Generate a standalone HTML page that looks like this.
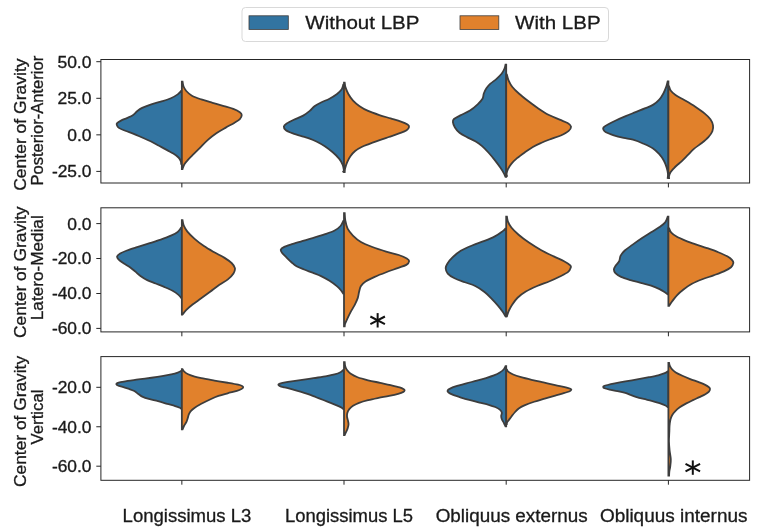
<!DOCTYPE html>
<html><head><meta charset="utf-8"><title>Violin chart</title>
<style>
html,body{margin:0;padding:0;background:#fff;}
svg{display:block;will-change:transform;}
text{font-family:"Liberation Sans",sans-serif;fill:#1a1a1a;stroke:#1a1a1a;stroke-width:0.3px;}
</style></head><body>
<svg width="762" height="532" viewBox="0 0 762 532">
<rect width="762" height="532" fill="#fff"/>
<rect x="242" y="7.5" width="366.5" height="34" rx="3.5" ry="3.5" fill="#fff" stroke="#d9d9d9" stroke-width="1"/>
<rect x="249" y="15.8" width="39.3" height="13.6" fill="#3274a1" stroke="#3d3d3d" stroke-width="0.8"/>
<text x="305.3" y="29.4" font-size="19" textLength="114.2" lengthAdjust="spacingAndGlyphs">Without LBP</text>
<rect x="460" y="15.8" width="38.8" height="13.6" fill="#e1812c" stroke="#3d3d3d" stroke-width="0.8"/>
<text x="515" y="29.4" font-size="19" textLength="85.6" lengthAdjust="spacingAndGlyphs">With LBP</text>
<path d="M181.85,91.00L181.15,91.00C180.57,91.56 179.39,93.17 177.68,94.38C175.98,95.60 173.73,97.06 170.91,98.27C168.09,99.49 164.15,100.61 160.76,101.66C157.38,102.70 153.71,103.49 150.61,104.53C147.51,105.58 144.40,106.79 142.15,107.92C139.89,109.05 138.62,110.09 137.07,111.30C135.52,112.52 134.53,114.07 132.84,115.19C131.15,116.32 128.89,117.17 126.92,118.07C124.95,118.97 122.63,119.76 121.00,120.61C119.36,121.46 117.81,122.44 117.11,123.15C116.40,123.85 116.49,124.05 116.77,124.84C117.05,125.63 117.39,126.90 118.80,127.88C120.21,128.87 122.75,129.77 125.23,130.76C127.71,131.75 130.87,132.68 133.69,133.81C136.51,134.94 139.33,136.29 142.15,137.53C144.97,138.77 147.79,139.87 150.61,141.25C153.43,142.63 156.25,144.30 159.07,145.82C161.89,147.34 165.16,149.09 167.53,150.39C169.90,151.69 171.45,152.42 173.28,153.60C175.12,154.79 177.29,156.23 178.53,157.50C179.77,158.76 180.29,160.17 180.73,161.22C181.16,162.26 181.08,163.33 181.15,163.76L181.85,163.76Z" fill="#3274a1" stroke="#3d3d3d" stroke-width="1.8" stroke-linejoin="miter"/>
<path d="M181.85,81.58L182.55,81.58C182.70,82.36 182.84,84.71 183.46,86.28C184.08,87.84 184.87,89.41 186.28,90.98C187.69,92.54 189.41,94.27 191.92,95.68C194.42,97.09 197.87,98.25 201.32,99.44C204.76,100.63 208.83,101.72 212.59,102.82C216.35,103.92 220.43,105.01 223.87,106.02C227.32,107.02 230.61,107.80 233.27,108.83C235.93,109.87 238.44,111.18 239.85,112.22C241.26,113.25 241.73,113.88 241.73,115.04C241.73,116.20 241.10,117.86 239.85,119.17C238.60,120.49 236.56,121.52 234.21,122.93C231.86,124.34 228.73,125.91 225.75,127.63C222.78,129.35 219.33,131.23 216.35,133.27C213.38,135.31 210.56,137.50 207.89,139.85C205.23,142.20 202.73,145.02 200.38,147.37C198.03,149.72 195.83,151.91 193.80,153.95C191.76,155.98 189.72,157.86 188.16,159.59C186.59,161.31 185.33,162.72 184.40,164.29C183.46,165.85 182.86,168.20 182.55,168.98L181.85,168.98Z" fill="#e1812c" stroke="#3d3d3d" stroke-width="1.8" stroke-linejoin="miter"/>
<path d="M344.00,84.58L343.30,84.58C343.04,85.36 342.77,87.71 341.73,89.28C340.68,90.84 339.07,92.41 337.03,93.98C334.99,95.54 332.17,97.27 329.51,98.68C326.85,100.09 323.56,101.18 321.05,102.44C318.55,103.69 316.35,104.79 314.47,106.20C312.59,107.61 311.65,109.33 309.77,110.89C307.89,112.46 305.86,114.12 303.20,115.59C300.53,117.07 296.55,118.41 293.80,119.73C291.04,121.05 288.31,122.36 286.65,123.49C284.99,124.62 283.96,125.37 283.83,126.50C283.71,127.62 284.40,129.10 285.90,130.26C287.41,131.41 289.97,132.39 292.86,133.45C295.74,134.52 300.50,135.83 303.20,136.65C305.89,137.46 306.74,137.49 309.02,138.34C311.31,139.18 314.29,140.41 316.92,141.72C319.55,143.04 322.18,144.48 324.81,146.23C327.44,147.99 330.29,150.15 332.71,152.25C335.12,154.35 337.64,156.76 339.29,158.83C340.93,160.89 341.83,162.77 342.59,164.65C343.36,166.53 343.77,168.98 343.89,170.11C344.01,171.23 343.40,171.20 343.30,171.42L344.00,171.42Z" fill="#3274a1" stroke="#3d3d3d" stroke-width="1.8" stroke-linejoin="miter"/>
<path d="M344.00,82.70L344.70,82.70C344.84,83.48 344.91,85.52 345.52,87.40C346.13,89.28 347.09,91.78 348.34,93.98C349.59,96.17 351.16,98.52 353.04,100.56C354.92,102.59 357.11,104.47 359.62,106.20C362.12,107.92 364.79,109.42 368.08,110.89C371.36,112.37 375.59,113.78 379.35,115.03C383.11,116.28 387.03,117.32 390.63,118.41C394.23,119.51 398.15,120.58 400.97,121.61C403.79,122.64 406.20,123.74 407.55,124.62C408.90,125.49 409.21,125.93 409.05,126.87C408.90,127.81 408.27,129.16 406.61,130.26C404.95,131.35 402.07,132.32 399.09,133.45C396.11,134.58 392.10,135.86 388.75,137.02C385.40,138.18 382.40,139.19 378.98,140.41C375.55,141.62 371.10,143.20 368.21,144.30C365.31,145.39 363.79,145.88 361.61,146.98C359.43,148.09 356.97,149.40 355.11,150.93C353.24,152.47 351.72,154.35 350.41,156.20C349.09,158.04 348.09,160.02 347.21,162.02C346.33,164.03 345.56,166.57 345.14,168.23C344.72,169.89 344.77,171.36 344.70,171.98L344.00,171.98Z" fill="#e1812c" stroke="#3d3d3d" stroke-width="1.8" stroke-linejoin="miter"/>
<path d="M506.20,64.73L505.50,64.73C505.33,65.36 505.15,66.98 504.50,68.49C503.85,70.00 502.97,72.04 501.60,73.81C500.23,75.57 498.17,77.45 496.31,79.10C494.44,80.75 492.06,82.16 490.41,83.69C488.75,85.23 487.50,86.66 486.40,88.29C485.30,89.92 484.46,91.74 483.81,93.49C483.16,95.24 483.48,97.04 482.50,98.81C481.52,100.57 479.99,102.13 477.91,104.10C475.82,106.07 472.94,108.72 470.00,110.61C467.06,112.49 462.94,114.01 460.27,115.41C457.60,116.81 455.19,117.88 453.96,119.01C452.74,120.14 452.75,120.79 452.91,122.21C453.06,123.62 453.81,125.74 454.91,127.50C456.01,129.26 457.42,131.14 459.50,132.79C461.59,134.44 464.78,135.99 467.41,137.41C470.04,138.83 472.89,139.89 475.29,141.31C477.69,142.72 479.62,144.04 481.80,145.90C483.99,147.77 486.20,150.08 488.40,152.50C490.60,154.92 493.02,157.89 495.00,160.41C496.98,162.92 498.86,165.51 500.29,167.59C501.73,169.67 502.74,171.37 503.60,172.91C504.47,174.44 505.18,176.15 505.50,176.80L506.20,176.80Z" fill="#3274a1" stroke="#3d3d3d" stroke-width="1.8" stroke-linejoin="miter"/>
<path d="M506.20,74.64L506.90,74.64C507.18,75.58 507.64,78.21 508.56,80.27C509.47,82.33 510.62,84.77 512.39,87.03C514.15,89.28 516.52,91.46 519.14,93.78C521.77,96.11 524.96,98.55 528.15,100.99C531.34,103.43 534.91,106.13 538.29,108.42C541.67,110.71 544.86,112.85 548.42,114.73C551.99,116.61 556.49,118.30 559.68,119.68C562.88,121.07 565.69,121.94 567.57,123.06C569.44,124.19 570.76,125.13 570.95,126.44C571.13,127.76 570.38,129.44 568.69,130.95C567.00,132.45 564.00,134.02 560.81,135.45C557.62,136.88 552.85,138.24 549.55,139.50C546.25,140.77 543.78,141.77 540.99,143.02C538.21,144.26 535.51,145.45 532.84,146.98C530.17,148.52 527.59,150.37 524.95,152.23C522.32,154.09 519.35,156.18 517.05,158.15C514.74,160.13 512.66,162.21 511.13,164.08C509.59,165.94 508.60,167.74 507.84,169.35C507.07,170.96 506.69,172.67 506.53,173.74C506.38,174.81 506.84,175.43 506.90,175.77L506.20,175.77Z" fill="#e1812c" stroke="#3d3d3d" stroke-width="1.8" stroke-linejoin="miter"/>
<path d="M668.40,81.32L667.70,81.32C667.45,82.25 666.93,84.78 666.18,86.86C665.43,88.93 664.37,91.63 663.22,93.77C662.06,95.92 660.91,97.89 659.26,99.70C657.62,101.52 655.64,103.23 653.34,104.64C651.03,106.06 648.40,106.95 645.43,108.20C642.47,109.45 638.84,110.84 635.55,112.15C632.26,113.47 628.96,114.72 625.67,116.11C622.37,117.49 618.75,119.07 615.79,120.45C612.82,121.84 609.92,123.25 607.88,124.41C605.84,125.56 604.29,126.55 603.53,127.37C602.78,128.19 602.94,128.52 603.34,129.35C603.73,130.17 604.16,131.32 605.91,132.31C607.65,133.30 610.85,134.35 613.81,135.28C616.77,136.20 620.50,137.11 623.69,137.85C626.89,138.58 629.68,138.73 632.98,139.70C636.28,140.68 640.21,142.26 643.49,143.70C646.78,145.13 650.07,146.55 652.70,148.30C655.34,150.05 657.44,152.13 659.30,154.21C661.17,156.29 662.69,158.59 663.91,160.79C665.12,162.99 665.92,165.21 666.60,167.39C667.28,169.58 667.82,172.13 668.00,173.89C668.18,175.66 667.75,177.29 667.70,177.96L668.40,177.96Z" fill="#3274a1" stroke="#3d3d3d" stroke-width="1.8" stroke-linejoin="miter"/>
<path d="M668.40,86.46L669.10,86.46C669.39,87.19 669.80,89.39 670.87,90.81C671.94,92.23 673.19,93.42 675.49,95.00C677.80,96.58 681.40,98.33 684.70,100.30C688.00,102.26 692.00,104.61 695.30,106.80C698.60,108.98 701.99,111.31 704.51,113.40C707.02,115.48 708.98,117.33 710.40,119.31C711.81,121.29 712.67,123.31 713.00,125.30C713.34,127.28 713.16,129.24 712.39,131.21C711.62,133.17 710.16,135.13 708.40,137.09C706.63,139.06 704.22,141.04 701.80,143.00C699.38,144.97 696.29,146.81 693.89,148.89C691.49,150.97 689.36,153.51 687.39,155.49C685.42,157.48 683.70,159.29 682.09,160.79C680.49,162.30 679.16,163.28 677.79,164.53C676.41,165.77 675.02,167.03 673.83,168.28C672.65,169.53 671.48,170.72 670.67,172.04C669.86,173.35 669.25,175.16 668.99,176.19C668.73,177.21 669.08,177.83 669.10,178.16L668.40,178.16Z" fill="#e1812c" stroke="#3d3d3d" stroke-width="1.8" stroke-linejoin="miter"/>
<path d="M181.85,227.69L181.15,227.69C180.57,228.40 179.39,230.60 177.68,231.92C175.98,233.25 173.73,234.37 170.91,235.64C168.09,236.91 164.43,238.24 160.76,239.53C157.10,240.83 152.87,242.16 148.92,243.43C144.97,244.70 140.74,245.96 137.07,247.15C133.41,248.33 129.74,249.46 126.92,250.53C124.10,251.60 121.79,252.59 120.15,253.58C118.52,254.57 117.39,255.50 117.11,256.46C116.82,257.41 117.39,258.20 118.46,259.33C119.53,260.46 121.56,261.87 123.54,263.22C125.51,264.58 128.33,266.04 130.30,267.45C132.28,268.86 133.69,270.27 135.38,271.68C137.07,273.09 138.48,274.50 140.46,275.91C142.43,277.32 144.69,278.87 147.23,280.14C149.76,281.41 152.87,282.40 155.69,283.53C158.51,284.66 161.33,285.70 164.15,286.91C166.97,288.12 170.21,289.48 172.61,290.80C175.00,292.13 177.10,293.68 178.53,294.86C179.95,296.05 180.71,297.40 181.15,297.91L181.85,297.91Z" fill="#3274a1" stroke="#3d3d3d" stroke-width="1.8" stroke-linejoin="miter"/>
<path d="M181.85,220.26L182.55,220.26C182.74,221.13 182.87,223.54 183.68,225.43C184.49,227.32 185.57,229.39 187.40,231.63C189.22,233.87 191.87,236.45 194.63,238.86C197.38,241.27 200.65,243.85 203.93,246.09C207.20,248.33 210.81,250.33 214.26,252.29C217.70,254.25 221.66,256.04 224.59,257.87C227.51,259.69 230.10,261.52 231.82,263.24C233.54,264.96 234.64,266.48 234.92,268.20C235.19,269.92 234.64,271.71 233.47,273.57C232.30,275.43 230.23,277.50 227.89,279.36C225.55,281.21 222.38,282.66 219.42,284.73C216.46,286.79 213.22,289.44 210.12,291.75C207.02,294.06 203.75,296.44 200.83,298.57C197.90,300.71 194.97,302.67 192.56,304.56C190.15,306.46 188.03,308.28 186.36,309.93C184.69,311.59 183.19,313.72 182.55,314.48L181.85,314.48Z" fill="#e1812c" stroke="#3d3d3d" stroke-width="1.8" stroke-linejoin="miter"/>
<path d="M344.00,220.92L343.30,220.92C342.84,221.77 341.98,224.39 340.53,226.00C339.08,227.61 337.28,229.16 334.61,230.57C331.93,231.98 328.12,233.19 324.45,234.46C320.79,235.73 316.56,237.00 312.61,238.18C308.66,239.37 304.43,240.49 300.76,241.57C297.10,242.64 293.43,243.68 290.61,244.61C287.79,245.54 285.48,246.30 283.84,247.15C282.21,247.99 281.08,248.70 280.80,249.69C280.52,250.67 281.22,251.80 282.15,253.07C283.08,254.34 284.83,255.78 286.38,257.30C287.93,258.82 289.77,260.71 291.46,262.21C293.15,263.70 294.42,265.06 296.53,266.27C298.65,267.48 301.47,268.41 304.15,269.48C306.83,270.56 309.79,271.60 312.61,272.70C315.43,273.80 318.25,274.73 321.07,276.08C323.89,277.44 326.85,279.10 329.53,280.82C332.21,282.54 335.17,284.74 337.14,286.40C339.12,288.07 340.35,289.59 341.37,290.80C342.40,292.02 342.98,293.20 343.30,293.68L344.00,293.68Z" fill="#3274a1" stroke="#3d3d3d" stroke-width="1.8" stroke-linejoin="miter"/>
<path d="M344.00,213.05L344.70,213.05C344.81,214.31 344.85,218.02 345.34,220.61C345.83,223.21 346.37,226.16 347.63,228.64C348.89,231.13 350.69,233.31 352.91,235.52C355.13,237.74 357.69,240.03 360.94,241.94C364.19,243.86 368.20,245.39 372.40,246.99C376.61,248.60 381.77,250.24 386.17,251.58C390.56,252.92 395.34,253.87 398.78,255.02C402.22,256.17 405.09,257.43 406.81,258.46C408.53,259.49 409.18,260.14 409.10,261.21C409.02,262.28 408.26,263.73 406.35,264.88C404.44,266.03 401.00,266.87 397.63,268.09C394.27,269.31 389.99,270.77 386.17,272.22C382.34,273.67 378.14,275.28 374.70,276.81C371.26,278.34 367.82,279.87 365.52,281.39C363.23,282.92 362.01,284.26 360.94,285.98C359.87,287.70 359.64,289.69 359.10,291.72C358.57,293.74 358.45,295.96 357.72,298.14C357.00,300.32 355.89,302.53 354.74,304.79C353.60,307.04 352.07,309.38 350.84,311.67C349.62,313.96 348.36,316.52 347.40,318.55C346.45,320.58 345.56,322.53 345.11,323.83C344.66,325.13 344.77,325.93 344.70,326.35L344.00,326.35Z" fill="#e1812c" stroke="#3d3d3d" stroke-width="1.8" stroke-linejoin="miter"/>
<path d="M506.20,228.53L505.50,228.53C504.93,229.05 503.86,230.32 502.08,231.63C500.31,232.94 497.78,234.83 494.85,236.38C491.92,237.93 488.31,239.41 484.52,240.93C480.73,242.44 476.08,243.82 472.12,245.47C468.16,247.12 464.03,248.85 460.76,250.84C457.49,252.84 454.73,255.32 452.50,257.45C450.26,259.59 448.47,261.86 447.33,263.65C446.19,265.44 445.61,266.55 445.68,268.20C445.75,269.85 446.26,271.88 447.74,273.57C449.22,275.26 451.70,276.88 454.56,278.32C457.42,279.77 461.45,280.97 464.89,282.25C468.34,283.52 471.95,284.35 475.22,285.97C478.49,287.59 481.77,289.82 484.52,291.96C487.28,294.09 489.51,296.50 491.75,298.78C493.99,301.05 496.13,303.43 497.95,305.60C499.78,307.76 501.44,310.00 502.70,311.79C503.96,313.58 505.03,315.58 505.50,316.34L506.20,316.34Z" fill="#3274a1" stroke="#3d3d3d" stroke-width="1.8" stroke-linejoin="miter"/>
<path d="M506.20,216.55L506.90,216.55C507.06,217.34 507.11,219.47 507.85,221.30C508.60,223.12 509.57,225.26 511.36,227.50C513.15,229.73 515.67,232.21 518.60,234.73C521.52,237.24 525.14,240.00 528.93,242.58C532.71,245.16 537.19,247.92 541.32,250.22C545.45,252.53 549.93,254.60 553.72,256.42C557.51,258.25 561.29,259.69 564.05,261.17C566.80,262.65 569.15,264.20 570.25,265.31C571.35,266.41 571.01,266.68 570.66,267.79C570.32,268.89 569.97,270.47 568.18,271.92C566.39,273.36 563.02,274.91 559.92,276.46C556.82,278.01 553.37,279.63 549.59,281.21C545.80,282.80 541.15,284.25 537.19,285.97C533.23,287.69 529.10,289.58 525.83,291.55C522.56,293.51 519.87,295.51 517.56,297.74C515.25,299.98 513.46,302.74 511.98,304.98C510.50,307.21 509.52,309.28 508.68,311.17C507.83,313.07 507.20,315.48 506.90,316.34L506.20,316.34Z" fill="#e1812c" stroke="#3d3d3d" stroke-width="1.8" stroke-linejoin="miter"/>
<path d="M668.40,216.70L667.70,216.70C667.29,217.64 666.57,220.62 665.21,222.34C663.86,224.06 661.92,225.38 659.57,227.04C657.22,228.70 654.09,230.42 651.11,232.30C648.14,234.18 644.85,236.22 641.71,238.32C638.58,240.41 635.14,242.86 632.32,244.89C629.50,246.93 626.74,248.75 624.80,250.53C622.85,252.32 621.60,253.82 620.66,255.61C619.72,257.39 619.97,259.59 619.16,261.25C618.34,262.91 616.65,264.22 615.77,265.57C614.90,266.92 613.96,268.08 613.89,269.33C613.83,270.58 614.21,271.84 615.40,273.09C616.59,274.34 618.53,275.69 621.04,276.85C623.54,278.01 626.99,279.01 630.44,280.05C633.88,281.08 638.27,282.11 641.71,283.05C645.16,283.99 648.14,284.68 651.11,285.68C654.09,286.69 657.22,287.94 659.57,289.07C661.92,290.20 663.86,291.57 665.21,292.45C666.57,293.33 667.29,294.02 667.70,294.33L668.40,294.33Z" fill="#3274a1" stroke="#3d3d3d" stroke-width="1.8" stroke-linejoin="miter"/>
<path d="M668.40,228.34L669.10,228.34C669.46,229.06 669.98,231.25 671.28,232.66C672.58,234.07 674.57,235.48 676.92,236.80C679.27,238.11 682.24,239.30 685.38,240.56C688.51,241.81 692.11,243.06 695.71,244.32C699.32,245.57 703.23,246.76 706.99,248.08C710.75,249.39 714.82,250.80 718.27,252.21C721.72,253.62 725.32,255.19 727.67,256.53C730.02,257.88 731.43,259.20 732.37,260.29C733.31,261.39 733.53,261.95 733.31,263.11C733.09,264.27 732.62,265.87 731.05,267.25C729.49,268.63 726.82,270.04 723.91,271.38C721.00,272.73 717.17,274.02 713.57,275.33C709.97,276.65 705.90,277.87 702.29,279.28C698.69,280.69 695.09,282.10 691.95,283.79C688.82,285.48 686.00,287.52 683.50,289.43C680.99,291.34 678.80,293.28 676.92,295.26C675.04,297.23 673.52,299.48 672.22,301.27C670.92,303.06 669.62,305.19 669.10,305.97L668.40,305.97Z" fill="#e1812c" stroke="#3d3d3d" stroke-width="1.8" stroke-linejoin="miter"/>
<path d="M181.85,370.92L181.15,370.92C180.59,371.21 179.45,372.04 177.79,372.63C176.13,373.22 173.84,373.88 171.21,374.47C168.58,375.07 165.29,375.64 162.00,376.18C158.71,376.73 155.42,377.21 151.47,377.76C147.53,378.31 142.26,378.97 138.32,379.47C134.37,379.98 130.75,380.35 127.79,380.79C124.83,381.23 122.31,381.71 120.55,382.11C118.80,382.50 117.96,382.81 117.26,383.16C116.56,383.51 116.23,383.82 116.34,384.21C116.45,384.61 116.89,385.07 117.92,385.53C118.95,385.99 120.66,386.40 122.53,386.97C124.39,387.54 127.13,388.27 129.11,388.95C131.08,389.63 132.83,390.22 134.37,391.05C135.90,391.89 137.00,393.03 138.32,393.95C139.63,394.87 140.51,395.75 142.26,396.58C144.02,397.41 146.21,398.18 148.84,398.95C151.47,399.71 154.98,400.37 158.05,401.18C161.12,402.00 164.41,403.00 167.26,403.82C170.11,404.63 173.07,405.39 175.16,406.05C177.24,406.71 178.76,407.32 179.76,407.76C180.76,408.20 180.92,408.53 181.15,408.68L181.85,408.68Z" fill="#3274a1" stroke="#3d3d3d" stroke-width="1.8" stroke-linejoin="miter"/>
<path d="M181.85,369.21L182.55,369.21C182.83,369.61 183.28,370.75 184.21,371.58C185.15,372.41 186.40,373.38 188.16,374.21C189.91,375.04 192.54,375.92 194.74,376.58C196.93,377.24 198.03,377.50 201.32,378.16C204.61,378.82 210.09,379.76 214.47,380.53C218.86,381.29 223.68,382.06 227.63,382.76C231.58,383.46 235.75,384.19 238.16,384.74C240.57,385.29 241.27,385.61 242.11,386.05C242.94,386.49 243.27,386.86 243.16,387.37C243.05,387.87 242.50,388.49 241.45,389.08C240.39,389.67 239.14,390.22 236.84,390.92C234.54,391.62 230.70,392.46 227.63,393.29C224.56,394.12 221.27,394.93 218.42,395.92C215.57,396.91 213.38,397.89 210.53,399.21C207.68,400.53 203.95,402.39 201.32,403.82C198.68,405.24 196.49,406.56 194.74,407.76C192.98,408.97 191.78,409.96 190.79,411.05C189.80,412.15 189.30,413.25 188.82,414.34C188.33,415.44 188.27,416.43 187.89,417.63C187.52,418.84 187.19,420.26 186.58,421.58C185.96,422.89 184.88,424.21 184.21,425.53C183.54,426.84 182.83,428.82 182.55,429.47L181.85,429.47Z" fill="#e1812c" stroke="#3d3d3d" stroke-width="1.8" stroke-linejoin="miter"/>
<path d="M344.00,370.00L343.30,370.00C342.82,370.37 341.91,371.49 340.45,372.24C338.99,372.98 336.83,373.82 334.53,374.47C332.22,375.13 330.14,375.57 326.63,376.18C323.12,376.80 317.86,377.50 313.47,378.16C309.09,378.82 304.26,379.56 300.32,380.13C296.37,380.70 292.75,381.14 289.79,381.58C286.83,382.02 284.31,382.39 282.55,382.76C280.80,383.14 279.96,383.49 279.26,383.82C278.56,384.14 278.23,384.36 278.34,384.74C278.45,385.11 278.89,385.61 279.92,386.05C280.95,386.49 282.44,386.82 284.53,387.37C286.61,387.92 289.79,388.64 292.42,389.34C295.05,390.04 297.68,390.77 300.32,391.58C302.95,392.39 305.58,393.27 308.21,394.21C310.84,395.15 313.47,396.23 316.11,397.24C318.74,398.25 321.37,399.23 324.00,400.26C326.63,401.29 329.48,402.43 331.89,403.42C334.31,404.41 336.72,405.39 338.47,406.18C340.23,406.97 341.62,407.68 342.42,408.16C343.23,408.64 343.15,408.93 343.30,409.08L344.00,409.08Z" fill="#3274a1" stroke="#3d3d3d" stroke-width="1.8" stroke-linejoin="miter"/>
<path d="M344.00,362.21L344.70,362.21C344.79,362.89 344.83,364.97 345.22,366.27C345.61,367.57 346.10,368.78 347.02,370.03C347.95,371.28 349.03,372.59 350.78,373.79C352.54,374.99 354.67,376.17 357.55,377.25C360.43,378.33 364.32,379.33 368.08,380.26C371.83,381.18 376.35,382.01 380.11,382.81C383.86,383.61 387.37,384.32 390.63,385.07C393.89,385.82 397.45,386.62 399.65,387.32C401.86,388.03 403.04,388.78 403.86,389.28C404.69,389.78 404.69,389.90 404.62,390.33C404.54,390.76 404.49,391.26 403.41,391.83C402.34,392.41 400.53,393.11 398.15,393.79C395.77,394.47 392.39,395.22 389.13,395.89C385.87,396.57 382.11,397.15 378.60,397.85C375.09,398.55 371.33,399.28 368.08,400.11C364.82,400.93 361.56,401.86 359.05,402.81C356.55,403.76 354.67,404.77 353.04,405.82C351.41,406.87 350.23,407.95 349.28,409.13C348.33,410.31 347.70,411.63 347.32,412.89C346.95,414.14 346.92,415.39 347.02,416.65C347.12,417.90 347.67,419.15 347.92,420.41C348.18,421.66 348.55,422.91 348.53,424.17C348.50,425.42 348.15,426.67 347.77,427.92C347.40,429.18 346.78,430.51 346.27,431.68C345.76,432.86 344.96,434.44 344.70,434.99L344.00,434.99Z" fill="#e1812c" stroke="#3d3d3d" stroke-width="1.8" stroke-linejoin="miter"/>
<path d="M506.20,366.21L505.50,366.21C505.22,366.71 504.75,368.18 503.82,369.24C502.88,370.29 501.51,371.50 499.87,372.53C498.22,373.56 496.25,374.50 493.95,375.42C491.64,376.34 488.90,377.18 486.05,378.05C483.20,378.93 480.13,379.81 476.84,380.68C473.55,381.56 469.61,382.44 466.32,383.32C463.03,384.19 459.74,385.11 457.11,385.95C454.47,386.78 452.11,387.59 450.53,388.32C448.95,389.04 447.96,389.59 447.63,390.29C447.30,390.99 447.63,391.76 448.55,392.53C449.47,393.29 451.07,394.06 453.16,394.89C455.24,395.73 458.20,396.65 461.05,397.53C463.90,398.40 467.19,399.32 470.26,400.16C473.33,400.99 476.40,401.76 479.47,402.53C482.54,403.29 486.05,404.02 488.68,404.76C491.32,405.51 493.40,406.19 495.26,407.00C497.13,407.81 498.77,408.69 499.87,409.63C500.96,410.57 501.62,411.61 501.84,412.66C502.06,413.71 501.18,414.85 501.18,415.95C501.18,417.04 501.40,418.10 501.84,419.24C502.28,420.38 503.21,421.58 503.82,422.79C504.43,424.00 505.22,425.86 505.50,426.47L506.20,426.47Z" fill="#3274a1" stroke="#3d3d3d" stroke-width="1.8" stroke-linejoin="miter"/>
<path d="M506.20,369.63L506.90,369.63C507.18,370.00 507.51,371.06 508.55,371.87C509.60,372.68 511.07,373.62 513.16,374.50C515.24,375.38 517.98,376.25 521.05,377.13C524.12,378.01 527.85,378.89 531.58,379.76C535.31,380.64 539.47,381.52 543.42,382.39C547.37,383.27 551.54,384.21 555.26,385.03C558.99,385.84 563.27,386.65 565.79,387.26C568.31,387.88 569.47,388.32 570.39,388.71C571.32,389.11 571.43,389.21 571.32,389.63C571.21,390.05 570.88,390.66 569.74,391.21C568.60,391.76 566.89,392.20 564.47,392.92C562.06,393.64 558.55,394.61 555.26,395.55C551.97,396.50 548.25,397.55 544.74,398.58C541.23,399.61 537.50,400.64 534.21,401.74C530.92,402.83 527.52,404.06 525.00,405.16C522.48,406.25 520.72,407.18 519.08,408.32C517.43,409.46 516.34,410.73 515.13,412.00C513.93,413.27 512.87,414.63 511.84,415.95C510.81,417.26 509.78,418.75 508.95,419.89C508.11,421.04 507.18,422.13 506.84,422.79C506.50,423.45 506.89,423.67 506.90,423.84L506.20,423.84Z" fill="#e1812c" stroke="#3d3d3d" stroke-width="1.8" stroke-linejoin="miter"/>
<path d="M668.40,371.32L667.70,371.32C667.21,371.62 666.37,372.50 664.79,373.16C663.21,373.82 660.84,374.58 658.21,375.26C655.58,375.94 652.29,376.58 649.00,377.24C645.71,377.89 642.42,378.51 638.47,379.21C634.53,379.91 629.26,380.75 625.32,381.45C621.37,382.15 617.75,382.83 614.79,383.42C611.83,384.01 609.35,384.56 607.55,385.00C605.75,385.44 604.72,385.72 604.00,386.05C603.28,386.38 603.12,386.60 603.21,386.97C603.30,387.35 603.47,387.85 604.53,388.29C605.58,388.73 607.38,389.14 609.53,389.61C611.68,390.07 614.79,390.50 617.42,391.05C620.05,391.60 623.12,392.24 625.32,392.89C627.51,393.55 628.82,394.34 630.58,395.00C632.33,395.66 633.65,396.18 635.84,396.84C638.04,397.50 641.11,398.29 643.74,398.95C646.37,399.61 649.00,400.09 651.63,400.79C654.26,401.49 657.22,402.37 659.53,403.16C661.83,403.95 664.09,404.87 665.45,405.53C666.81,406.18 667.32,406.84 667.70,407.11L668.40,407.11Z" fill="#3274a1" stroke="#3d3d3d" stroke-width="1.8" stroke-linejoin="miter"/>
<path d="M668.40,363.00L669.10,363.00C669.23,363.48 669.41,364.86 669.87,365.89C670.33,366.93 670.86,368.09 671.84,369.18C672.83,370.28 674.04,371.38 675.79,372.47C677.54,373.57 679.96,374.67 682.37,375.76C684.78,376.86 687.63,378.02 690.26,379.05C692.89,380.08 695.75,381.03 698.16,381.95C700.57,382.87 702.98,383.75 704.74,384.58C706.49,385.41 707.81,386.22 708.68,386.95C709.56,387.67 709.96,388.15 710.00,388.92C710.04,389.69 709.71,390.68 708.95,391.55C708.18,392.43 706.97,393.26 705.39,394.18C703.82,395.11 701.56,396.09 699.47,397.08C697.39,398.07 695.09,399.05 692.89,400.11C690.70,401.16 688.51,402.19 686.32,403.39C684.12,404.60 681.60,406.03 679.74,407.34C677.87,408.66 676.40,409.97 675.13,411.29C673.86,412.61 672.87,413.92 672.11,415.24C671.34,416.55 670.92,417.76 670.53,419.18C670.13,420.61 669.91,422.47 669.74,423.79C669.56,425.11 669.54,425.76 669.47,427.08C669.41,428.39 669.43,429.32 669.34,431.68C669.25,434.05 668.90,438.15 668.95,441.29C668.99,444.43 669.30,447.54 669.61,450.50C669.91,453.46 670.68,456.42 670.79,459.05C670.90,461.68 670.50,464.21 670.26,466.29C670.02,468.37 669.54,470.02 669.34,471.55C669.15,473.09 669.14,474.84 669.10,475.50L668.40,475.50Z" fill="#e1812c" stroke="#3d3d3d" stroke-width="1.8" stroke-linejoin="miter"/>
<rect x="100.9" y="59.5" width="648.7" height="123.5" fill="none" stroke="#262626" stroke-width="1"/>
<line x1="96.30000000000001" x2="100.9" y1="61.7" y2="61.7" stroke="#262626" stroke-width="1"/>
<text x="91.5" y="67.6" text-anchor="end" font-size="15.7" textLength="34.1" lengthAdjust="spacingAndGlyphs">50.0</text>
<line x1="96.30000000000001" x2="100.9" y1="98.3" y2="98.3" stroke="#262626" stroke-width="1"/>
<text x="91.5" y="104.2" text-anchor="end" font-size="15.7" textLength="34.1" lengthAdjust="spacingAndGlyphs">25.0</text>
<line x1="96.30000000000001" x2="100.9" y1="134.85" y2="134.85" stroke="#262626" stroke-width="1"/>
<text x="91.5" y="140.8" text-anchor="end" font-size="15.7" textLength="24.3" lengthAdjust="spacingAndGlyphs">0.0</text>
<line x1="96.30000000000001" x2="100.9" y1="171.4" y2="171.4" stroke="#262626" stroke-width="1"/>
<text x="91.5" y="177.3" text-anchor="end" font-size="15.7" textLength="39.6" lengthAdjust="spacingAndGlyphs">-25.0</text>
<line x1="181.85" x2="181.85" y1="183.0" y2="187.4" stroke="#262626" stroke-width="1"/>
<line x1="344.0" x2="344.0" y1="183.0" y2="187.4" stroke="#262626" stroke-width="1"/>
<line x1="506.2" x2="506.2" y1="183.0" y2="187.4" stroke="#262626" stroke-width="1"/>
<line x1="668.4" x2="668.4" y1="183.0" y2="187.4" stroke="#262626" stroke-width="1"/>
<text transform="translate(25.9,190.8) rotate(-90)" font-size="16.4" textLength="132.3" lengthAdjust="spacingAndGlyphs">Center of Gravity</text>
<text transform="translate(43.0,185.6) rotate(-90)" font-size="16.4" textLength="129.8" lengthAdjust="spacingAndGlyphs">Posterior-Anterior</text>
<rect x="100.9" y="207.8" width="648.7" height="124.09999999999997" fill="none" stroke="#262626" stroke-width="1"/>
<line x1="96.30000000000001" x2="100.9" y1="223.6" y2="223.6" stroke="#262626" stroke-width="1"/>
<text x="91.5" y="229.5" text-anchor="end" font-size="15.7" textLength="24.3" lengthAdjust="spacingAndGlyphs">0.0</text>
<line x1="96.30000000000001" x2="100.9" y1="258.5" y2="258.5" stroke="#262626" stroke-width="1"/>
<text x="91.5" y="264.4" text-anchor="end" font-size="15.7" textLength="39.6" lengthAdjust="spacingAndGlyphs">-20.0</text>
<line x1="96.30000000000001" x2="100.9" y1="293.5" y2="293.5" stroke="#262626" stroke-width="1"/>
<text x="91.5" y="299.4" text-anchor="end" font-size="15.7" textLength="39.6" lengthAdjust="spacingAndGlyphs">-40.0</text>
<line x1="96.30000000000001" x2="100.9" y1="328.4" y2="328.4" stroke="#262626" stroke-width="1"/>
<text x="91.5" y="334.3" text-anchor="end" font-size="15.7" textLength="39.6" lengthAdjust="spacingAndGlyphs">-60.0</text>
<line x1="181.85" x2="181.85" y1="331.9" y2="336.29999999999995" stroke="#262626" stroke-width="1"/>
<line x1="344.0" x2="344.0" y1="331.9" y2="336.29999999999995" stroke="#262626" stroke-width="1"/>
<line x1="506.2" x2="506.2" y1="331.9" y2="336.29999999999995" stroke="#262626" stroke-width="1"/>
<line x1="668.4" x2="668.4" y1="331.9" y2="336.29999999999995" stroke="#262626" stroke-width="1"/>
<text transform="translate(25.9,338.0) rotate(-90)" font-size="16.4" textLength="131.5" lengthAdjust="spacingAndGlyphs">Center of Gravity</text>
<text transform="translate(43.0,320.2) rotate(-90)" font-size="16.4" textLength="104.9" lengthAdjust="spacingAndGlyphs">Latero-Medial</text>
<rect x="100.9" y="356.6" width="648.7" height="123.69999999999999" fill="none" stroke="#262626" stroke-width="1"/>
<line x1="96.30000000000001" x2="100.9" y1="387.3" y2="387.3" stroke="#262626" stroke-width="1"/>
<text x="91.5" y="393.2" text-anchor="end" font-size="15.7" textLength="39.6" lengthAdjust="spacingAndGlyphs">-20.0</text>
<line x1="96.30000000000001" x2="100.9" y1="426.75" y2="426.75" stroke="#262626" stroke-width="1"/>
<text x="91.5" y="432.6" text-anchor="end" font-size="15.7" textLength="39.6" lengthAdjust="spacingAndGlyphs">-40.0</text>
<line x1="96.30000000000001" x2="100.9" y1="466.2" y2="466.2" stroke="#262626" stroke-width="1"/>
<text x="91.5" y="472.1" text-anchor="end" font-size="15.7" textLength="39.6" lengthAdjust="spacingAndGlyphs">-60.0</text>
<line x1="181.85" x2="181.85" y1="480.3" y2="484.7" stroke="#262626" stroke-width="1"/>
<line x1="344.0" x2="344.0" y1="480.3" y2="484.7" stroke="#262626" stroke-width="1"/>
<line x1="506.2" x2="506.2" y1="480.3" y2="484.7" stroke="#262626" stroke-width="1"/>
<line x1="668.4" x2="668.4" y1="480.3" y2="484.7" stroke="#262626" stroke-width="1"/>
<text transform="translate(25.9,487.0) rotate(-90)" font-size="16.4" textLength="131.1" lengthAdjust="spacingAndGlyphs">Center of Gravity</text>
<text transform="translate(43.0,444.5) rotate(-90)" font-size="16.4" textLength="55.0" lengthAdjust="spacingAndGlyphs">Vertical</text>
<text x="122.60000000000001" y="521.7" font-size="17.6" textLength="128.8" lengthAdjust="spacingAndGlyphs">Longissimus L3</text>
<text x="285.0" y="521.7" font-size="17.6" textLength="128.0" lengthAdjust="spacingAndGlyphs">Longissimus L5</text>
<text x="435.7" y="521.7" font-size="17.6" textLength="152.0" lengthAdjust="spacingAndGlyphs">Obliquus externus</text>
<text x="599.9" y="521.7" font-size="17.6" textLength="147.6" lengthAdjust="spacingAndGlyphs">Obliquus internus</text>
<line x1="377.65" y1="313.10" x2="377.65" y2="327.50" stroke="#111" stroke-width="2.0"/><line x1="370.38" y1="316.51" x2="384.92" y2="324.09" stroke="#111" stroke-width="2.0"/><line x1="384.92" y1="316.51" x2="370.38" y2="324.09" stroke="#111" stroke-width="2.0"/><line x1="692.80" y1="460.40" x2="692.80" y2="474.80" stroke="#111" stroke-width="2.0"/><line x1="685.53" y1="463.81" x2="700.07" y2="471.39" stroke="#111" stroke-width="2.0"/><line x1="700.07" y1="463.81" x2="685.53" y2="471.39" stroke="#111" stroke-width="2.0"/>
</svg>
</body></html>
